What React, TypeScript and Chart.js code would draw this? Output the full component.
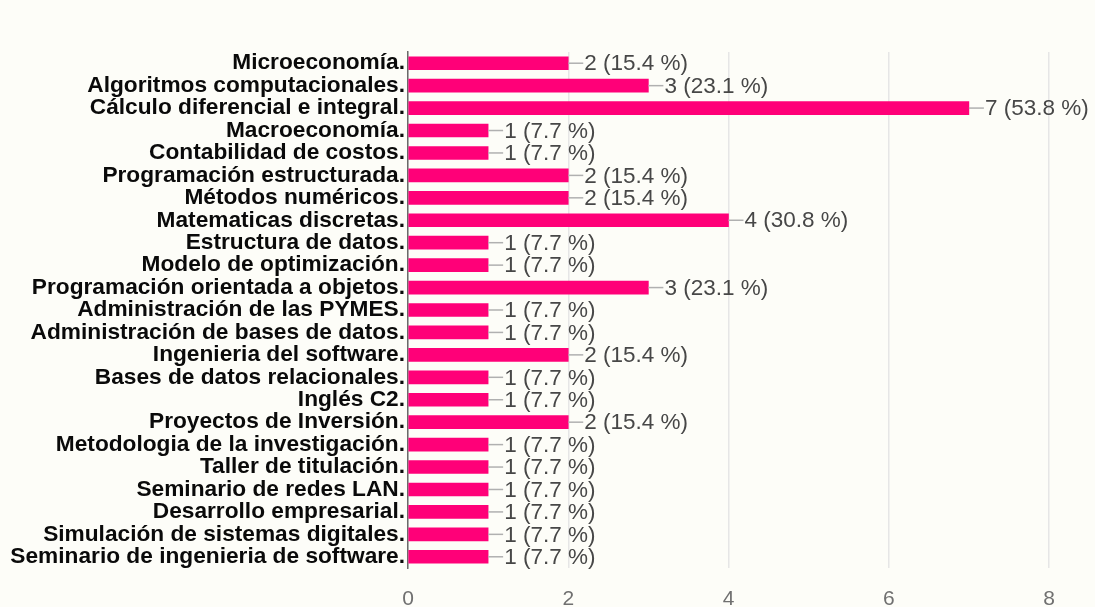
import React, { useEffect, useRef } from "react";
import { Chart, registerables } from "chart.js";

Chart.register(...registerables);

const categories = [
  "Microeconomía.",
  "Algoritmos computacionales.",
  "Cálculo diferencial e integral.",
  "Macroeconomía.",
  "Contabilidad de costos.",
  "Programación estructurada.",
  "Métodos numéricos.",
  "Matematicas discretas.",
  "Estructura de datos.",
  "Modelo de optimización.",
  "Programación orientada a objetos.",
  "Administración de las PYMES.",
  "Administración de bases de datos.",
  "Ingenieria del software.",
  "Bases de datos relacionales.",
  "Inglés C2.",
  "Proyectos de Inversión.",
  "Metodologia de la investigación.",
  "Taller de titulación.",
  "Seminario de redes LAN.",
  "Desarrollo empresarial.",
  "Simulación de sistemas digitales.",
  "Seminario de ingenieria de software.",
];

const counts = [2, 3, 7, 1, 1, 2, 2, 4, 1, 1, 3, 1, 1, 2, 1, 1, 2, 1, 1, 1, 1, 1, 1];

const respondents = 13;

const xTicks = [0, 2, 4, 6, 8];

const valueLabelPlugin = {
  id: "valueLabels",
  afterDatasetsDraw(chart: any) {
    const ctx = chart.ctx;
    const meta = chart.getDatasetMeta(0);
    ctx.save();
    meta.data.forEach((bar: any, i: number) => {
      const v = counts[i];
      const pct = ((v / respondents) * 100).toFixed(1);
      const x = bar.x;
      const y = bar.y;
      ctx.strokeStyle = "#b0b0b0";
      ctx.lineWidth = 1.5;
      ctx.beginPath();
      ctx.moveTo(x, y);
      ctx.lineTo(x + 15, y);
      ctx.stroke();
      ctx.fillStyle = "#474747";
      ctx.font = "22.5px 'Liberation Sans', Arial, sans-serif";
      ctx.textAlign = "left";
      ctx.textBaseline = "middle";
      ctx.fillText(`${v} (${pct} %)`, x + 16, y + 1);
    });
    ctx.restore();
  },
};

export default function App() {
  const ref = useRef<HTMLCanvasElement | null>(null);

  useEffect(() => {
    document.body.style.margin = "0";
    const canvas = ref.current;
    if (!canvas) return;
    const chart = new Chart(canvas, {
      type: "bar",
      data: {
        labels: categories,
        datasets: [
          {
            data: counts,
            backgroundColor: "#ff0078",
            borderWidth: 0,
            barThickness: 13,
          },
        ],
      },
      options: {
        indexAxis: "y",
        animation: false,
        responsive: false,
        maintainAspectRatio: false,
        layout: { padding: { top: 52, right: 46, bottom: 0, left: 0 } },
        plugins: {
          legend: { display: false },
          tooltip: { enabled: false },
        },
        scales: {
          x: {
            type: "linear",
            min: 0,
            max: 8,
            afterBuildTicks(scale: any) {
              scale.ticks = xTicks.map((v) => ({ value: v }));
            },
            afterFit(scale: any) {
              scale.height = 39;
            },
            grid: { color: "#e6e6e6", lineWidth: 1.5, drawTicks: false },
            border: { display: false },
            ticks: {
              padding: 19,
              color: "#707070",
              font: { family: "'Liberation Sans', Arial, sans-serif", size: 21 },
            },
          },
          y: {
            type: "category",
            afterFit(scale: any) {
              scale.width = 408;
            },
            grid: { display: false, drawTicks: false },
            border: { display: true, color: "#6a6a6a", width: 1.5 },
            ticks: {
              padding: 3,
              autoSkip: false,
              color: "#0a0a0a",
              font: {
                family: "'Liberation Sans', Arial, sans-serif",
                size: 22.7,
                weight: "bold",
              },
            },
          },
        },
      },
      plugins: [valueLabelPlugin],
    });
    return () => chart.destroy();
  }, []);

  return (
    <div
      style={{
        position: "absolute",
        left: 0,
        top: 0,
        width: 1095,
        height: 607,
        background: "#fdfdf8",
      }}
    >
      <canvas ref={ref} width={1095} height={607} style={{ display: "block" }} />
    </div>
  );
}
